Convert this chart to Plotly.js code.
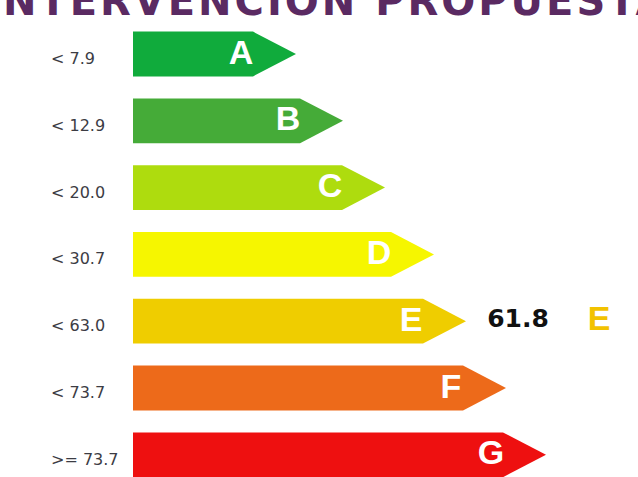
<!DOCTYPE html>
<html>
<head>
<meta charset="utf-8">
<script src="https://cdn.plot.ly/plotly-3.0.1.min.js"></script>
<style>
html,body{margin:0;padding:0;background:#fff;}
#chart{width:638px;height:477px;}
.annotation-text{letter-spacing:3px;}
</style>
</head>
<body>
<div id="chart"></div>
<script>
// ---- data ----
var categories = ['A','B','C','D','E','F','G'];
var thresholdLabels = ['< 7.9','< 12.9','< 20.0','< 30.7','< 63.0','< 73.7','>= 73.7'];
var arrowLengths = [163, 210, 252, 301, 333, 373, 413];
var barColors = ['#10ab3c','#45ab38','#aedc0e','#f6f600','#efcd00','#ed6a1a','#ee1010'];
var resultValue = '61.8';
var resultClass = 'E';
var titleText = 'INTERVENCION PROPUESTA';

// ---- drawing ----
var x0 = 133, head = 43, halfH = 0.335;
var pxPerUnit = 66.8, topIdx = -54/pxPerUnit, botIdx = (477-54)/pxPerUnit;
var traces = [];
categories.forEach(function(c, i){
  var tip = x0 + arrowLengths[i];
  var re = tip - head;
  traces.push({
    type:'scatter', mode:'lines', fill:'toself', fillcolor:barColors[i],
    line:{width:0, color:barColors[i]}, hoverinfo:'skip',
    x:[x0, re, tip, re, x0, x0],
    y:[i-halfH, i-halfH, i, i+halfH, i+halfH, i-halfH]
  });
});
traces.push({
  type:'scatter', mode:'text', hoverinfo:'skip',
  x: categories.map(function(c,i){ return x0 + arrowLengths[i] - head - 12; }),
  y: categories.map(function(c,i){ return i + 1/pxPerUnit; }),
  text: categories, textposition:'middle center',
  textfont:{family:'Liberation Sans, Arial, sans-serif', size:34, color:'#ffffff', weight:'bold'}
});
traces.push({
  type:'scatter', mode:'text', hoverinfo:'skip',
  x: thresholdLabels.map(function(){ return 51; }),
  y: thresholdLabels.map(function(l,i){ return i + 6/pxPerUnit; }),
  text: thresholdLabels, textposition:'middle right',
  textfont:{family:'DejaVu Sans, sans-serif', size:16, color:'#3c3c44'}
});
var ri = categories.indexOf(resultClass);
traces.push({
  type:'scatter', mode:'text', hoverinfo:'skip',
  x:[518], y:[ri], text:[resultValue], textposition:'middle center',
  textfont:{family:'DejaVu Sans, sans-serif', size:25, color:'#111111', weight:'bold'}
});
traces.push({
  type:'scatter', mode:'text', hoverinfo:'skip',
  x:[599], y:[ri], text:[resultClass], textposition:'middle center',
  textfont:{family:'Liberation Sans, Arial, sans-serif', size:34, color:'#f2c200', weight:'bold'}
});

var layout = {
  width:638, height:477,
  margin:{l:0,r:0,t:0,b:0},
  paper_bgcolor:'#ffffff', plot_bgcolor:'#ffffff',
  showlegend:false,
  xaxis:{range:[0,638], visible:false, fixedrange:true},
  yaxis:{range:[botIdx, topIdx], visible:false, fixedrange:true},
  annotations:[{
    text:'<b>'+titleText+'</b>', xref:'x', yref:'y', x:327, y:topIdx + 1/pxPerUnit,
    xanchor:'center', yanchor:'middle', showarrow:false,
    font:{family:'DejaVu Sans, sans-serif', size:40, color:'#5a2a62'}
  }]
};
Plotly.newPlot('chart', traces, layout, {staticPlot:true, displayModeBar:false});
</script>
</body>
</html>
